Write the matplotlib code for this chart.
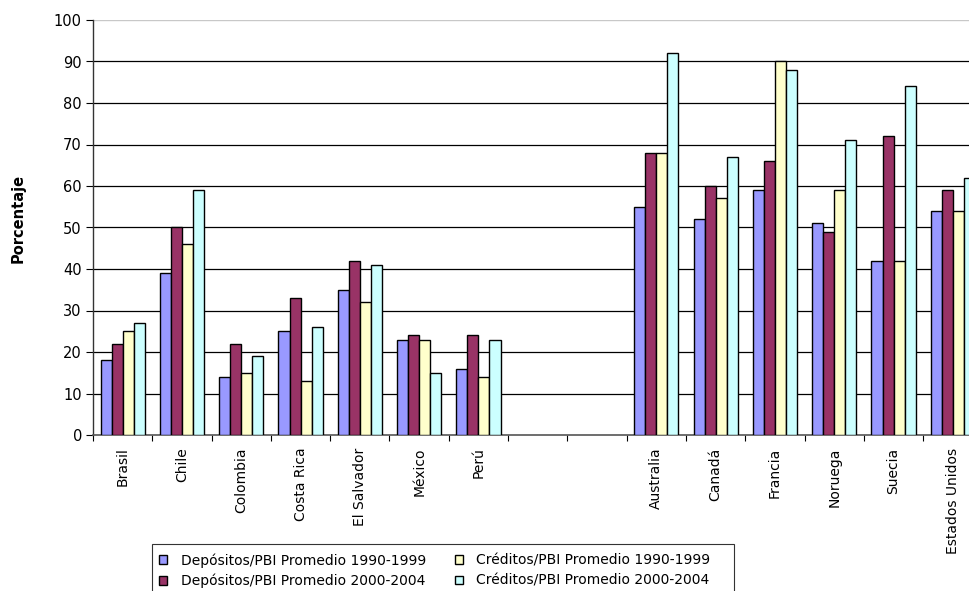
import matplotlib
matplotlib.use("Agg")
import matplotlib.pyplot as plt
import numpy as np
from matplotlib.patches import Patch, Rectangle

# Countries (two empty slots separate Latin America from developed economies)
categories = ["Brasil", "Chile", "Colombia", "Costa Rica", "El Salvador", "México", "Perú",
              "", "", "Australia", "Canadá", "Francia", "Noruega", "Suecia", "Estados Unidos"]

dep_90_99 = [18, 39, 14, 25, 35, 23, 16, None, None, 55, 52, 59, 51, 42, 54]
dep_00_04 = [22, 50, 22, 33, 42, 24, 24, None, None, 68, 60, 66, 49, 72, 59]
cred_90_99 = [25, 46, 15, 13, 32, 23, 14, None, None, 68, 57, 90, 59, 42, 54]
cred_00_04 = [27, 59, 19, 26, 41, 15, 23, None, None, 92, 67, 88, 71, 84, 62]

series_labels = ["Depósitos/PBI Promedio 1990-1999",
                 "Depósitos/PBI Promedio 2000-2004",
                 "Créditos/PBI Promedio 1990-1999",
                 "Créditos/PBI Promedio 2000-2004"]
series_colors = ["#9999FF", "#993366", "#FFFFCC", "#CCFFFF"]
series_values = [dep_90_99, dep_00_04, cred_90_99, cred_00_04]

plt.rcParams['font.family'] = ['DejaVu Sans']

fig = plt.figure(figsize=(9.70, 5.91), dpi=100)
W, H = 970, 591
ax = fig.add_axes([93 / W, 1 - 435 / H, 889.5 / W, 415 / H])

x = np.arange(len(categories))
bw = 0.186
for i, (vals, col, lab) in enumerate(zip(series_values, series_colors, series_labels)):
    xs = [xi for xi, v in zip(x, vals) if v is not None]
    vs = [v for v in vals if v is not None]
    offset = (i - 1.5) * bw
    ax.bar(np.array(xs) + offset, vs, width=bw, color=col, edgecolor="black",
           linewidth=1.0, zorder=3, label=lab)

ax.set_xlim(-0.5, len(categories) - 0.5)
ax.set_ylim(0, 100)
ax.set_yticks(np.arange(0, 101, 10))
ax.tick_params(axis="y", labelsize=10.5, length=5, width=0.8, direction="out", pad=3)

# Grid lines
for yv in range(10, 100, 10):
    ax.axhline(yv, color="black", linewidth=0.9, zorder=1)
ax.axhline(100, color="#c8c8c8", linewidth=1.0, zorder=1)

# Category labels at group centres, tick marks at group boundaries
ax.set_xticks(x)
ax.set_xticklabels(categories, rotation=90, fontsize=10, va="top")
ax.tick_params(axis="x", length=0, pad=9)
ax.set_xticks(np.arange(-0.5, len(categories), 1.0), minor=True)
ax.tick_params(axis="x", which="minor", length=4, width=0.8, direction="out")

for s in ["top", "right"]:
    ax.spines[s].set_visible(False)
ax.spines["left"].set_color("#333333")
ax.spines["bottom"].set_color("#555555")
ax.spines["left"].set_linewidth(1.0)
ax.spines["bottom"].set_linewidth(1.2)

fig.text(18 / W, 1 - 218 / H, "Porcentaje", rotation=90, fontsize=10.5,
         fontweight="bold", ha="center", va="center")

# Legend entries, with a separate box drawn around them
handles = [Patch(facecolor=c, edgecolor="black", linewidth=1.0) for c in series_colors]
leg = fig.legend(handles, series_labels, ncol=2, loc="upper left",
                 bbox_to_anchor=(159 / W, 1 - 553 / H), fontsize=10,
                 frameon=False, borderaxespad=0, borderpad=0,
                 handlelength=0.55, handleheight=0.55, handletextpad=1.0,
                 columnspacing=2.1, labelspacing=0.45)
fig.patches.append(Rectangle((152 / W, 1 - 610 / H), (734 - 152) / W, (610 - 544) / H,
                             transform=fig.transFigure, fill=False,
                             edgecolor="#333333", linewidth=0.8))

fig.savefig("out.png", dpi=100)
